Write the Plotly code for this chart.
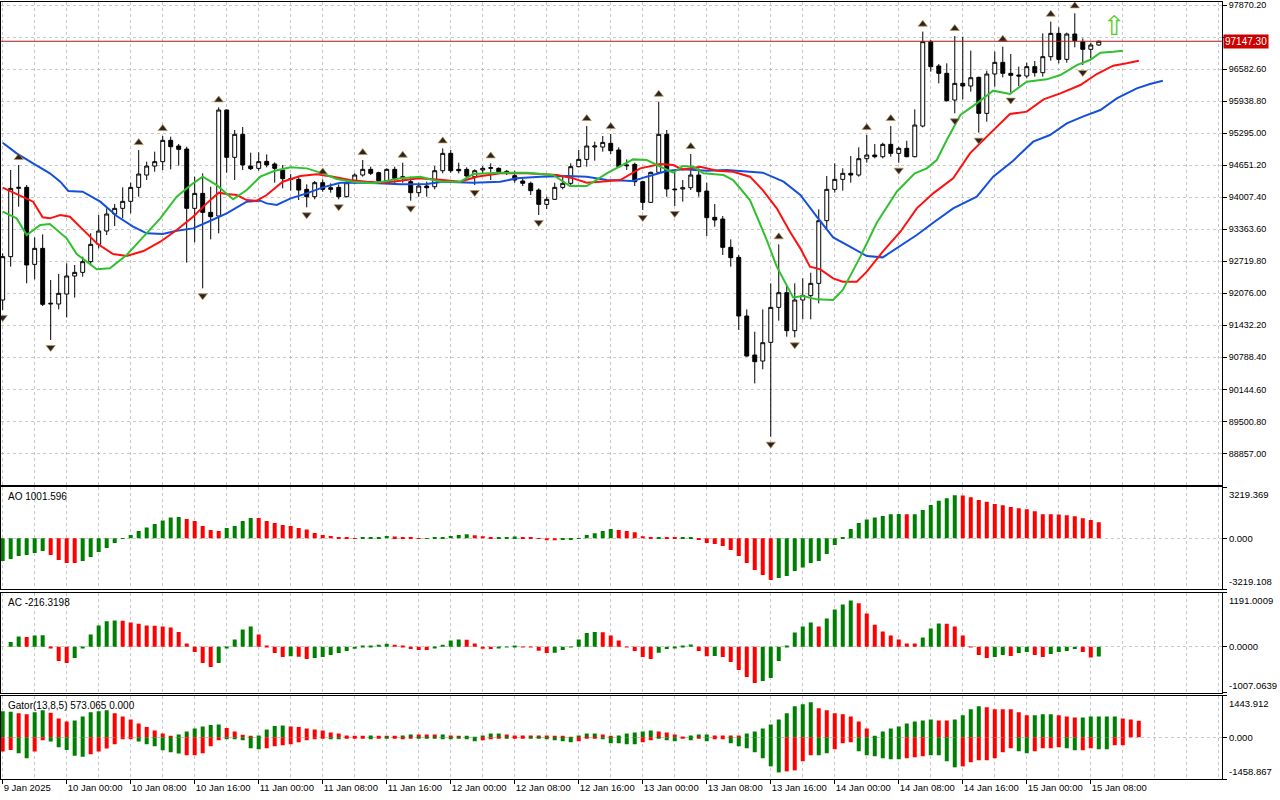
import plotly.graph_objects as go

# H1 candles, index 0 = 9 Jan 2025 16:00, last = 15 Jan 09:00
open_ = [91942, 92814, 94188, 94208, 92659, 92981, 91861, 91861, 92062, 92425,
         92498, 92713, 93062, 93330, 93672, 93786, 93927, 94208, 94456, 94637,
         94725, 95154, 95040, 94979, 93786, 94087, 93705, 93631, 95764, 94812,
         95275, 94637, 94590, 94731, 94678, 94557, 94383, 94369, 94168, 94020,
         94302, 94201, 94208, 94020, 94302, 94456, 94570, 94503, 94342, 94570,
         94423, 94322, 94101, 94235, 94221, 94543, 94892, 94570, 94570, 94423,
         94557, 94590, 94590, 94530, 94443, 94336, 94289, 94154, 93866, 93967,
         94208, 94289, 94624, 94771, 95020, 95020, 95094, 94959, 94658, 94671,
         94322, 93906, 94510, 95275, 94175, 94175, 94201, 94456, 94134, 93605,
         93571, 93001, 92800, 91620, 90835, 90714, 91090, 91794, 92089, 91325,
         91942, 92029, 92277, 93538, 94168, 94369, 94490, 94456, 94785, 94859,
         94825, 95073, 94892, 94993, 94825, 95442, 97139, 96649, 96502, 95965,
         96300, 96247, 96421, 95697, 96488, 96723, 96502, 96468, 96448, 96636,
         96515, 96837, 97306, 96783, 97293, 97139, 96985, 97072]
high = [92881, 94557, 94658, 94255, 93202, 93263, 92344, 92465, 92680, 92646,
        92814, 93283, 93652, 93786, 93873, 94208, 94302, 94959, 94725, 94926,
        95241, 95228, 95080, 95026, 94423, 94490, 94221, 95818, 95777, 95362,
        95422, 94906, 94912, 94872, 94711, 94658, 94476, 94409, 94268, 94336,
        94369, 94289, 94268, 94356, 94490, 94758, 94624, 94523, 94590, 94624,
        94705, 94423, 94302, 94322, 94637, 94993, 94959, 94705, 94611, 94570,
        94637, 94691, 94611, 94557, 94543, 94376, 94322, 94188, 94020, 94302,
        94423, 94691, 94959, 95442, 95127, 95241, 95281, 95013, 94771, 94705,
        94342, 94523, 95932, 95362, 94523, 94356, 94879, 94590, 94302, 93873,
        93631, 93162, 92847, 91754, 91304, 91754, 92277, 93062, 92243, 92277,
        92378, 92492, 93766, 94436, 94691, 94590, 94839, 95013, 95261, 95080,
        95107, 95442, 95026, 95147, 95777, 97340, 97172, 96689, 96703, 97253,
        97239, 96958, 96435, 96555, 96938, 97038, 96891, 96636, 96716, 96750,
        97306, 97541, 97427, 97320, 97709, 97206, 97119, 97159]
low = [91741, 92612, 93819, 92277, 92357, 91821, 91137, 91754, 91593, 91989,
       92411, 92646, 92981, 93249, 93430, 93584, 93685, 94020, 94356, 94523,
       94557, 94570, 94644, 92693, 93102, 92176, 93162, 93283, 94503, 94356,
       94557, 94557, 94543, 94611, 94302, 94188, 94141, 93953, 93806, 93967,
       94121, 94101, 93967, 94007, 94289, 94423, 94456, 94302, 94302, 94289,
       94302, 93940, 94020, 94020, 94168, 94490, 94503, 94490, 94389, 94255,
       94490, 94356, 94490, 94456, 94302, 94235, 94054, 93652, 93772, 93953,
       94168, 94255, 94611, 94624, 94745, 94926, 94879, 94611, 94557, 94235,
       93752, 93900, 94490, 94020, 93833, 93920, 94154, 94020, 93229, 93417,
       92847, 92612, 91338, 90802, 90265, 90547, 89192, 91526, 91204, 91190,
       91553, 91553, 91875, 93350, 94101, 94141, 94302, 94423, 94704, 94792,
       94792, 94825, 94704, 94812, 94812, 95415, 96535, 96300, 95932, 95697,
       95979, 96133, 95308, 95529, 96233, 96421, 96113, 96247, 96401, 96435,
       96435, 96757, 96703, 96716, 97025, 96669, 96804, 97058]
close = [92814, 94188, 94208, 92646, 92981, 91855, 91875, 92076, 92425, 92498,
         92713, 93062, 93330, 93672, 93786, 93927, 94208, 94476, 94637, 94725,
         95154, 95026, 94973, 93786, 94087, 93705, 93618, 95764, 94812, 95275,
         94658, 94584, 94725, 94658, 94590, 94383, 94369, 94154, 94020, 94302,
         94168, 94168, 94020, 94302, 94456, 94570, 94490, 94342, 94570, 94389,
         94389, 94101, 94235, 94201, 94543, 94892, 94543, 94543, 94436, 94543,
         94590, 94604, 94523, 94517, 94356, 94289, 94141, 93866, 93967, 94208,
         94289, 94624, 94771, 95040, 95040, 95113, 94946, 94624, 94644, 94322,
         93906, 94510, 95275, 94175, 94161, 94201, 94456, 94121, 93598, 93551,
         93001, 92793, 91620, 90815, 90701, 91083, 91794, 92089, 91325, 91942,
         92035, 92277, 93538, 94168, 94369, 94490, 94456, 94785, 94859, 94825,
         95073, 94892, 94993, 94825, 95462, 97139, 96636, 96502, 95952, 96300,
         96247, 96414, 95697, 96488, 96723, 96502, 96461, 96448, 96636, 96515,
         96837, 97306, 96783, 97293, 97159, 96985, 97072, 97147.30]

up_fractals = [2, 17, 20, 27, 40, 45, 50, 55, 61, 73, 76, 82, 86, 97,
               108, 111, 115, 119, 125, 131, 134]
down_fractals = [0, 6, 25, 38, 42, 51, 59, 67, 80, 84, 96, 99, 112, 119,
                 122, 126, 135]

# Alligator (jaw / teeth / lips), drawn with their forward shift
jaw_x = [0, 1.75, 3.8, 5.9, 7.2, 8.2, 10, 12.2, 14.25, 16.3, 18, 20, 21.75, 23.8, 25.9,
         28, 30.5, 32.2, 33, 34.25, 36, 38, 40, 42.2, 45.5, 49.7, 53, 55, 58.8, 62.2,
         64.25, 67.2, 70.5, 73, 75.5, 78.8, 80.5, 83, 85, 88, 90.5, 93, 95, 97.6, 99.7,
         101.75, 103.8, 105.9, 108, 110, 112.2, 114.25, 116.3, 118.8, 121.75, 123.8,
         126.3, 128.8, 130.9, 133, 135, 137.2, 139.25, 141.75, 143.4, 145]
jaw_y = [95107, 94892, 94691, 94490, 94322, 94135, 94121, 93920, 93631, 93417,
         93283, 93269, 93336, 93383, 93531, 93685, 93920, 93940, 93886, 93853,
         93987, 94087, 94208, 94302, 94302, 94269, 94275, 94322, 94302, 94322,
         94389, 94423, 94436, 94423, 94356, 94336, 94423, 94537, 94570, 94543,
         94557, 94523, 94503, 94322, 94054, 93618, 93202, 93015, 92827, 92800,
         93028, 93249, 93497, 93786, 94020, 94423, 94745, 95127, 95261, 95496,
         95630, 95764, 95999, 96200, 96287, 96354]
teeth_x = [0, 2.2, 3.8, 5, 5.9, 7.2, 8.4, 10, 11.75, 13.8, 15.5, 17.6, 19.7, 21.75, 23.8,
           25.5, 27, 28, 29.25, 30.5, 31.75, 33, 35, 37.2, 39.25, 41.3, 43.4, 45.5, 47.6,
           49.7, 52, 55, 57.2, 59.25, 62.2, 65.5, 69.25, 71.3, 73, 74.7, 77.2, 79.7, 82.2,
           83.8, 85, 87.2, 89.25, 91.3, 93.4, 95, 96.75, 98.4, 99.7, 100.9, 102.2, 103.8,
           105, 106.75, 108, 110, 112.2, 114.25, 116.3, 118.8, 120.9, 123, 125.9, 128,
           130.1, 132.2, 134.7, 136.75, 138.8, 140.5, 142]
teeth_y = [94201, 94034, 93920, 93605, 93585, 93652, 93618, 93363, 93082, 92867,
           92827, 92927, 93115, 93350, 93618, 93886, 94101, 94074, 94054, 93953,
           93940, 94054, 94322, 94436, 94470, 94423, 94356, 94322, 94302, 94342,
           94389, 94356, 94322, 94423, 94490, 94490, 94456, 94389, 94302, 94322,
           94356, 94590, 94678, 94658, 94570, 94624, 94543, 94523, 94423, 94154,
           93786, 93316, 92981, 92612, 92558, 92378, 92310, 92310, 92512, 92914,
           93316, 93786, 94087, 94389, 94892, 95228, 95684, 95731, 95979, 96099,
           96267, 96488, 96656, 96703, 96757]
lips_x = [0, 1.75, 3, 4.7, 5.9, 8, 9.25, 11.75, 13.4, 15.5, 17.6, 19.7, 21.75, 23.8, 25,
          26.75, 28.8, 30.5, 32.2, 34, 36, 38, 40, 41.75, 43.8, 46.3, 48, 49.7, 52.2, 54.7,
          57.2, 58.8, 62.2, 65.5, 68.8, 70.9, 73, 75.5, 78.8, 80.5, 82.2, 83.8, 85, 86.3,
          87.6, 90.1, 91.3, 93.4, 95.5, 96.75, 98.8, 100, 101.75, 103.8, 105, 107.2,
          109.25, 111.75, 114, 115.5, 116.75, 118, 119.7, 121.75, 123.8, 125.9, 128,
          130.5, 132.2, 134.25, 135.9, 137.2, 138.8, 140]
lips_y = [93719, 93584, 93249, 93450, 93470, 93182, 92867, 92559, 92579, 92847,
          93216, 93584, 94020, 94289, 94423, 94255, 93967, 94154, 94423, 94543,
          94611, 94590, 94490, 94376, 94322, 94289, 94336, 94389, 94423, 94322,
          94322, 94476, 94503, 94503, 94456, 94235, 94235, 94490, 94771, 94758,
          94624, 94503, 94637, 94624, 94490, 94456, 94356, 93953, 93149, 92612,
          91995, 92022, 91955, 91942, 92143, 92814, 93497, 94121, 94490, 94590,
          94758, 95161, 95663, 95898, 96153, 96086, 96334, 96381, 96468, 96669,
          96770, 96918, 96938, 96958]

# Awesome Oscillator
ao = [-1425, -1300, -1111, -1048, -922, -796, -1048, -1362, -1551, -1560,
      -1425, -1174, -859, -608, -293, -42, 210, 461, 671, 901,
      1111, 1300, 1341, 1216, 1090, 776, 524, 461, 650, 776,
      1090, 1279, 1270, 1090, 964, 838, 776, 650, 545, 335,
      210, 147, 63, 21, 15, 20, 63, 70, 147, 105,
      63, 42, 8, 12, 21, 42, 147, 210, 252, 189,
      126, 60, 63, 84, 105, 63, 42, -21, -126, -130,
      -105, -100, 5, 210, 314, 461, 587, 524, 461, 377,
      126, 21, 63, 52, 42, 45, 63, -105, -293, -356,
      -482, -734, -1111, -1551, -1991, -2306, -2620, -2494, -2368, -2054,
      -1844, -1551, -1425, -985, -419, 63, 587, 964, 1174, 1300,
      1404, 1500, 1520, 1505, 1515, 1782, 2096, 2348, 2515, 2704,
      2690, 2578, 2410, 2285, 2159, 2075, 1970, 1886, 1824, 1698,
      1509, 1500, 1490, 1446, 1383, 1258, 1153, 1001.596]
ao_col = ("GGGGGGRRRR" "GGGGGGGGGG" "GGGRRRRRGG" "GGRRRRRRRR" "RRRRRGGGGR"
          "RRRGGGGGGR" "RRGGGRRRRR" "GGGGGGGRRR" "RRGRRGGRRR" "RRRRRRRGGG"
          "GGGGGGGGGG" "GGGRGGGGGG" "RRRRRRRRRR" "RRRRRRRR")

# Accelerator Oscillator
ac = [0, 102, 226, 212, 248, 250, -29, -314, -358, -248,
      -22, 270, 467, 562, 577, 570, 533, 504, 467, 460,
      445, 423, 321, 73, -117, -358, -445, -358, -29, 161,
      380, 445, 270, 29, -139, -226, -212, -220, -270, -248,
      -226, -183, -139, -95, -44, 15, 22, 44, 66, 44,
      7, -51, -73, -75, -29, 44, 139, 161, 155, 73,
      -44, -51, -29, -15, 15, -7, -15, -88, -139, -135,
      -73, -15, 161, 299, 321, 315, 248, 139, -15, -95,
      -226, -270, -131, -51, -29, 8, 51, -95, -212, -204,
      -226, -336, -511, -664, -796, -752, -686, -314, 15, 314,
      445, 533, 445, 621, 818, 927, 1015, 956, 730, 482,
      336, 248, 161, 73, 68, 204, 402, 511, 505, 445,
      248, -15, -183, -248, -226, -183, -204, -139, -117, -183,
      -226, -161, -117, -95, -51, -117, -240, -216.3198]
ac_col = ("GGGRGGRRRG" "GGGGGRRRRR" "RRRRRRRGGG" "GGRRRRGRRG" "GGGGGGGGGR"
          "RRRRGGGGRR" "RRGGGRRRRG" "GGGGGRRRRR" "RRGGGGGRRG" "RRRRRGGGGG"
          "GGRGGGGRRR" "RRRRRGGGRR" "RRRRGGRGGR" "RGGGGRRG")

# Gator oscillator (upper = |jaw-teeth|, lower = -|teeth-lips|)
gator_up = [901, 889, 831, 796, 866, 936, 854, 655, 550, 585,
            725, 866, 901, 936, 831, 725, 620, 480, 351, 234,
            129, 35, 94, 199, 304, 374, 421, 445, 316, 199,
            82, 35, 59, 269, 386, 410, 374, 351, 304, 269,
            234, 164, 129, 59, 35, 35, 59, 35, 35, 35,
            59, 94, 94, 94, 94, 94, 59, 35, 35, 12,
            59, 129, 129, 94, 59, 59, 59, 59, 59, 35,
            23, 12, 59, 129, 129, 94, 23, 59, 129, 164,
            199, 234, 199, 164, 94, 12, 59, 94, 94, 59,
            59, 59, 59, 129, 199, 304, 445, 620, 831, 1076,
            1147, 1217, 1006, 936, 831, 796, 725, 550, 304, 23,
            199, 304, 374, 480, 550, 585, 620, 585, 585, 620,
            761, 971, 1076, 1041, 971, 971, 971, 866, 761, 761,
            796, 796, 761, 725, 690, 690, 725, 725, 725, 725,
            655, 620, 573.065]
gator_up_col = ("GGRRGGRRRG" "GGGGRRRRRR" "RRGGGGGGRR" "RRGGGGRRRR" "RRRRRRGRRR"
                "GGRRRGRRGG" "GGGRRRRRRR" "RRGGGRRGGG" "GGRRRRGGGR" "RRRGGGGGGG"
                "GGRRRRRRRG" "GGGGGGGRRG" "GGGRRRRRRG" "GGRRRGGGGG" "RRR")
gator_dn = [-503, -445, -562, -737, -503, -105, -152, -351, -445, -644,
            -679, -597, -503, -398, -246, -70, -70, -152, -246, -316,
            -456, -527, -573, -632, -632, -562, -316, -105, -70, -70,
            -105, -386, -421, -386, -316, -281, -246, -176, -105, -70,
            -23, -70, -70, -23, -23, -35, -70, -35, -35, -35,
            -70, -35, -35, -35, -35, -70, -70, -35, -70, -140,
            -105, -70, -35, -35, -35, -35, -35, -35, -70, -105,
            -140, -176, -140, -35, -35, -70, -211, -211, -246, -246,
            -176, -105, -35, -105, -140, -35, -105, -35, -140, -70,
            -70, -211, -316, -386, -527, -737, -1018, -1229, -1193, -1158,
            -842, -632, -632, -562, -421, -211, -176, -491, -632, -667,
            -737, -772, -772, -737, -702, -667, -632, -632, -842, -1053,
            -1018, -878, -807, -807, -737, -527, -386, -491, -562, -491,
            -386, -386, -351, -386, -456, -456, -386, -421, -421, -281,
            -281]
gator_dn_col = ("RRGGRRGGGG" "GRRRRRRGGG" "GGGRRRRRGG" "GGGRRRRRRR" "RGGRRRGRGR"
                "RRGGGGGGGG" "RRRGRRGGGG" "GGRRRGGGGG" "RRGGGRGRGR" "RGGGGGGGRR"
                "RRGGRRRGGG" "GGGRRRGGGG" "RRRRRRRGGR" "RRRGGRRGGR" "R")

price_ticks = [97870.20, 97226.40, 96582.60, 95938.80, 95295.00, 94651.20, 94007.40,
               93363.60, 92719.80, 92076.00, 91432.20, 90788.40, 90144.60, 89500.80,
               88857.00]
time_ticks = [0, 8, 16, 24, 32, 40, 48, 56, 64, 72, 80, 88, 96, 104, 112, 120, 128, 136]
time_labels = ["9 Jan 2025", "10 Jan 00:00", "10 Jan 08:00", "10 Jan 16:00",
               "11 Jan 00:00", "11 Jan 08:00", "11 Jan 16:00", "12 Jan 00:00",
               "12 Jan 08:00", "12 Jan 16:00", "13 Jan 00:00", "13 Jan 08:00",
               "13 Jan 16:00", "14 Jan 00:00", "14 Jan 08:00", "14 Jan 16:00",
               "15 Jan 00:00", "15 Jan 08:00"]

ao_range = [-3219.108, 3219.369]
ac_range = [-1007.0639, 1191.0009]
gator_range = [-1458.867, 1443.912]

signal_x, signal_y = 139, 97474  # buy arrow

GREEN, RED = "#008000", "#ff0000"
cmap = {"G": GREEN, "R": RED}
GRID = "#c8c8c8"
DASH = "3px,3px"
FONT = "Liberation Sans"
FR_OFF = 150

idx = list(range(len(close)))

fig = go.Figure()

fig.add_trace(go.Candlestick(
    x=idx, open=open_, high=high, low=low, close=close,
    increasing=dict(line=dict(color="black", width=1), fillcolor="white"),
    decreasing=dict(line=dict(color="black", width=1), fillcolor="black"),
    whiskerwidth=0, hoverinfo="skip", showlegend=False, xaxis="x", yaxis="y"))

for lx, ly, col in [(jaw_x, jaw_y, "#1550dc"), (teeth_x, teeth_y, "#ff1010"),
                    (lips_x, lips_y, "#30c030")]:
    fig.add_trace(go.Scatter(x=lx, y=ly, mode="lines", line=dict(color=col, width=2),
                             hoverinfo="skip", showlegend=False, xaxis="x", yaxis="y"))

# fractal arrowheads
fig.add_trace(go.Scatter(
    x=up_fractals, y=[high[i] + FR_OFF for i in up_fractals], mode="markers",
    marker=dict(symbol="triangle-up", size=8, color="#262626",
                line=dict(color="#c89050", width=0.7)),
    hoverinfo="skip", showlegend=False, xaxis="x", yaxis="y"))
fig.add_trace(go.Scatter(
    x=down_fractals, y=[low[i] - FR_OFF for i in down_fractals], mode="markers",
    marker=dict(symbol="triangle-down", size=8, color="#262626",
                line=dict(color="#c89050", width=0.7)),
    hoverinfo="skip", showlegend=False, xaxis="x", yaxis="y"))

fig.add_trace(go.Bar(x=idx, y=ao, marker=dict(color=[cmap[c] for c in ao_col], line_width=0),
                     width=0.5, hoverinfo="skip", showlegend=False, xaxis="x2", yaxis="y2"))
fig.add_trace(go.Bar(x=idx, y=ac, marker=dict(color=[cmap[c] for c in ac_col], line_width=0),
                     width=0.5, hoverinfo="skip", showlegend=False, xaxis="x3", yaxis="y3"))
fig.add_trace(go.Bar(x=list(range(len(gator_up))), y=gator_up,
                     marker=dict(color=[cmap[c] for c in gator_up_col], line_width=0),
                     width=0.5, hoverinfo="skip", showlegend=False, xaxis="x4", yaxis="y4"))
fig.add_trace(go.Bar(x=list(range(len(gator_dn))), y=gator_dn,
                     marker=dict(color=[cmap[c] for c in gator_dn_col], line_width=0),
                     width=0.5, hoverinfo="skip", showlegend=False, xaxis="x4", yaxis="y4"))

x_range = [-0.21, 152.4]


def x_axis(anchor, labels):
    d = dict(anchor=anchor, range=x_range, showline=True, mirror=True, linecolor="black",
             linewidth=1, tickmode="array", tickvals=time_ticks, showticklabels=labels,
             showgrid=True, gridcolor=GRID, griddash=DASH, gridwidth=1, zeroline=False,
             minor=dict(tick0=0, dtick=4, showgrid=True, gridcolor=GRID, griddash=DASH),
             rangeslider=dict(visible=False), fixedrange=True)
    if labels:
        d.update(ticktext=time_labels, ticks="outside", ticklen=4, tickcolor="black",
                 ticklabelposition="outside right", tickfont=dict(size=9.5))
    else:
        d.update(ticks="")
    if anchor != "y":
        d["matches"] = "x"
    return d


def y_axis(dom, rng, vals, text, size=9.5):
    return dict(domain=dom, range=rng, side="right", showline=True, mirror=True,
                linecolor="black", linewidth=1, tickmode="array", tickvals=vals,
                ticktext=text, ticks="outside", ticklen=4, tickcolor="black",
                showgrid=True, gridcolor=GRID, griddash=DASH, zeroline=False,
                tickfont=dict(size=size), ticklabeloverflow="allow", fixedrange=True)


# the 97226.40 label sits under the price box, as in the terminal
price_text = ["" if abs(p - close[-1]) < 200 else f"{p:.2f}" for p in price_ticks]

fig.update_layout(
    width=1280, height=800,
    margin=dict(l=1, r=58, t=2, b=21),
    paper_bgcolor="white", plot_bgcolor="white",
    font=dict(family=FONT, size=10, color="black"),
    barmode="overlay", showlegend=False,
    xaxis=x_axis("y", False),
    xaxis2=x_axis("y2", False),
    xaxis3=x_axis("y3", False),
    xaxis4=x_axis("y4", True),
    yaxis=y_axis([0.379, 1.0], [88230, 97937], price_ticks, price_text, size=9),
    yaxis2=y_axis([0.2439, 0.3758], ao_range, [ao_range[0], 0, ao_range[1]],
                  ["", "0.000", ""]),
    yaxis3=y_axis([0.1113, 0.2400], ac_range, [ac_range[0], 0, ac_range[1]],
                  ["", "0.0000", ""]),
    yaxis4=y_axis([0.0, 0.1071], gator_range, [gator_range[0], 0, gator_range[1]],
                  ["", "0.000", ""]),
)

# current price line and label
fig.add_shape(type="line", xref="x domain", x0=0, x1=1, yref="y",
              y0=close[-1], y1=close[-1], line=dict(color="#b01818", width=1))
fig.add_annotation(xref="paper", x=1, xanchor="left", xshift=1, yref="y", y=close[-1],
                   text=f"{close[-1]:.2f}", showarrow=False, bgcolor="#cc0000",
                   font=dict(color="white", size=10, family=FONT), borderpad=1)

# buy signal arrow
fig.add_annotation(x=signal_x, y=signal_y, xref="x", yref="y", text="⇧", showarrow=False,
                   font=dict(size=27, color="#55cc22", family="DejaVu Sans"))

# indicator captions and scale limits
panes = [("y2", f"AO {ao[-1]:.3f}", ao_range, "{:.3f}"),
         ("y3", f"AC {ac[-1]:.4f}", ac_range, "{:.4f}"),
         ("y4", f"Gator(13,8,5) {gator_up[-1]:.3f} 0.000", gator_range, "{:.3f}")]
for ax, caption, rng, fmt in panes:
    fig.add_annotation(xref="paper", x=0.004, xanchor="left", yref=f"{ax} domain", y=1,
                       yanchor="top", yshift=-2, text=caption, showarrow=False,
                       font=dict(size=10, family=FONT))
    fig.add_annotation(xref="paper", x=1, xanchor="left", xshift=5, yref=f"{ax} domain",
                       y=1, yanchor="top", text=fmt.format(rng[1]), showarrow=False,
                       font=dict(size=9.5, family=FONT))
    fig.add_annotation(xref="paper", x=1, xanchor="left", xshift=5, yref=f"{ax} domain",
                       y=0, yanchor="bottom", text=fmt.format(rng[0]), showarrow=False,
                       font=dict(size=9.5, family=FONT))

fig.write_html("out.html", config={"displayModeBar": False},
               post_script="document.body.style.margin='0';")
